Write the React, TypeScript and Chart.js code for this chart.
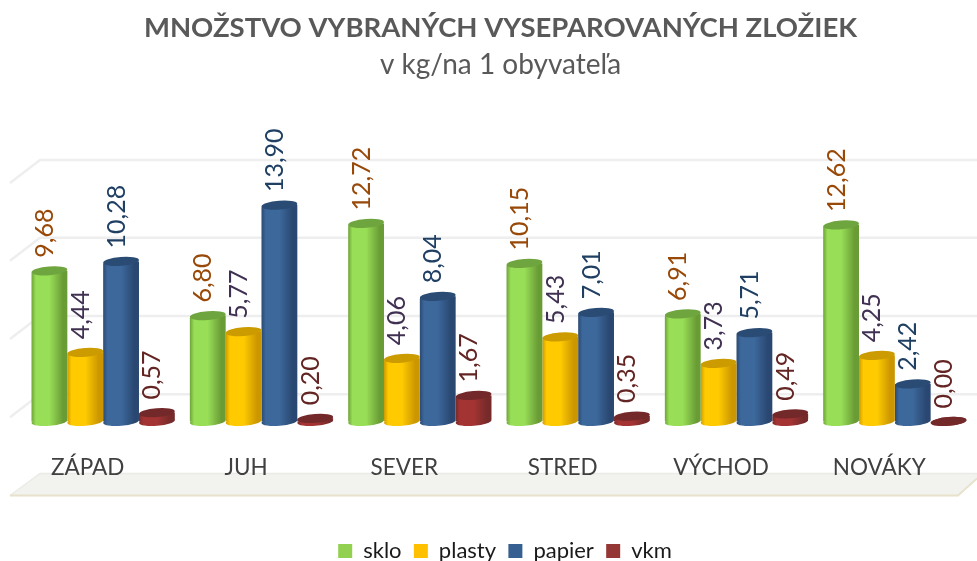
import React, { useEffect, useRef } from "react";
import { Chart, registerables } from "chart.js";

Chart.register(...registerables);

const categories = ["ZÁPAD", "JUH", "SEVER", "STRED", "VÝCHOD", "NOVÁKY"];
const sklo = [9.68, 6.8, 12.72, 10.15, 6.91, 12.62];
const plasty = [4.44, 5.77, 4.06, 5.43, 3.73, 4.25];
const papier = [10.28, 13.9, 8.04, 7.01, 5.71, 2.42];
const vkm = [0.57, 0.2, 1.67, 0.35, 0.49, 0.0];
const wallLines = [1.75, 6.77, 11.8, 16.8];

const FONT = "Lato, Carlito, sans-serif";
const CAT_PCT = 0.905;

type Pal = { legend: string; edgeL: string; mid: string; edgeR: string; cap: string; label: string };
const pal: Pal[] = [
  { legend: "#92d050", edgeL: "#6ea338", mid: "#98de56", edgeR: "#6a9c36", cap: "#6fa53e", label: "#984807" },
  { legend: "#ffc000", edgeL: "#cf9a00", mid: "#ffcb00", edgeR: "#cb9600", cap: "#cb9b00", label: "#403152" },
  { legend: "#376092", edgeL: "#2a4a72", mid: "#3d689c", edgeR: "#294770", cap: "#2a4b74", label: "#1f3f63" },
  { legend: "#953735", edgeL: "#762a2a", mid: "#a43434", edgeR: "#762a2a", cap: "#732829", label: "#632523" },
];

function bodyFill(ctx: any, p: Pal) {
  const chart = ctx.chart;
  const xs = chart.scales.x;
  if (!chart.chartArea || !xs || ctx.dataIndex === undefined) return p.mid;
  const step = xs.width / categories.length;
  const w = (step * CAT_PCT) / 4;
  const c = xs.getPixelForTick(ctx.dataIndex) + (ctx.datasetIndex - 1.5) * w;
  const g = chart.ctx.createLinearGradient(c - w / 2, 0, c + w / 2, 0);
  g.addColorStop(0, p.edgeL);
  g.addColorStop(0.12, p.mid);
  g.addColorStop(0.5, p.mid);
  g.addColorStop(0.88, p.edgeR);
  g.addColorStop(1, p.edgeR);
  return g;
}

const backdrop = {
  id: "backdrop",
  beforeDraw(chart: any) {
    const { ctx, width } = chart;
    const y = chart.scales.y;
    const left = chart.chartArea.left + 16;
    ctx.save();
    ctx.strokeStyle = "#eeeeee";
    ctx.lineWidth = 2.5;
    y.ticks.forEach((t: any) => {
      const py = y.getPixelForValue(t.value);
      ctx.beginPath();
      ctx.moveTo(left - 30, py + 23);
      ctx.lineTo(left, py);
      ctx.lineTo(width, py);
      ctx.stroke();
    });
    const base = y.getPixelForValue(0);
    const top = base + 52;
    const front = base + 74;
    ctx.beginPath();
    ctx.moveTo(left, top);
    ctx.lineTo(width, top);
    ctx.lineTo(width, front - 17);
    ctx.lineTo(width - 19, front);
    ctx.lineTo(left - 30, front);
    ctx.closePath();
    ctx.fillStyle = "#f2f2ef";
    ctx.fill();
    ctx.strokeStyle = "#eaeae6";
    ctx.lineWidth = 1.5;
    ctx.beginPath();
    ctx.moveTo(left - 30, front);
    ctx.lineTo(left, top);
    ctx.lineTo(width, top);
    ctx.stroke();
    ctx.strokeStyle = "#e6e2cc";
    ctx.lineWidth = 2;
    ctx.beginPath();
    ctx.moveTo(left - 30, front);
    ctx.lineTo(width - 19, front);
    ctx.lineTo(width, front - 17);
    ctx.stroke();
    ctx.restore();
  },
};

const cylinders = {
  id: "cylinders",
  afterLayout(chart: any) {
    chart.legend.left += 9;
    chart.legend.top += 11;
  },
  afterDatasetDraw(chart: any, args: any) {
    const { ctx } = chart;
    const i = args.index;
    const p = pal[i];
    const y = chart.scales.y;
    const base = y.getPixelForValue(0);
    args.meta.data.forEach((el: any) => {
      const rx = el.width / 2;
      const tilt = -0.08;
      ctx.save();
      ctx.fillStyle = el.options.backgroundColor;
      ctx.beginPath();
      ctx.ellipse(el.x, base, rx, 4.4, tilt, 0, Math.PI * 2);
      ctx.fill();
      ctx.fillStyle = p.cap;
      ctx.beginPath();
      ctx.ellipse(el.x, el.y, rx, 4.4, tilt, 0, Math.PI * 2);
      ctx.fill();
      ctx.restore();
    });
  },
  afterDatasetsDraw(chart: any) {
    const { ctx } = chart;
    chart.data.datasets.forEach((ds: any, i: number) => {
      chart.getDatasetMeta(i).data.forEach((el: any, k: number) => {
        ctx.save();
        ctx.translate(el.x - 4.5, el.y - 13);
        ctx.rotate(-Math.PI / 2);
        ctx.font = `25px ${FONT}`;
        ctx.fillStyle = pal[i].label;
        ctx.textAlign = "left";
        ctx.textBaseline = "middle";
        ctx.fillText(ds.data[k].toFixed(2).replace(".", ","), 0, 0);
        ctx.restore();
      });
    });
  },
};

function series(label: string, data: number[], i: number) {
  const p = pal[i];
  return {
    label,
    data,
    backgroundColor: (c: any) => bodyFill(c, p),
    borderWidth: 0,
    borderSkipped: false,
    borderRadius: { topLeft: 3, topRight: 0, bottomLeft: 0, bottomRight: 3 },
    barPercentage: 1,
    categoryPercentage: CAT_PCT,
  };
}

export default function App() {
  const ref = useRef<HTMLCanvasElement>(null);
  useEffect(() => {
    const chart = new Chart(ref.current!, {
      type: "bar",
      data: {
        labels: categories,
        datasets: [
          series("sklo", sklo, 0),
          series("plasty", plasty, 1),
          series("papier", papier, 2),
          series("vkm", vkm, 3),
        ] as any,
      },
      plugins: [backdrop, cylinders],
      options: {
        responsive: false,
        animation: false,
        events: [],
        layout: { padding: { left: 24, right: 0, top: 0, bottom: 0 } },
        scales: {
          x: {
            grid: { display: false },
            border: { display: false },
            ticks: {
              color: "#404040",
              font: { family: FONT, size: 22.5 },
              padding: 6,
              labelOffset: -15.5,
              maxRotation: 0,
              autoSkip: false,
            },
            afterFit(s: any) {
              s.height = 76;
            },
          },
          y: {
            position: "right",
            min: -1.234,
            max: 20.84,
            grid: { display: false },
            border: { display: false },
            ticks: { display: false },
            afterFit(s: any) {
              s.width = 3;
            },
            afterBuildTicks(s: any) {
              s.ticks = wallLines.map((value) => ({ value }));
            },
          },
        },
        plugins: {
          tooltip: { enabled: false },
          title: {
            display: true,
            text: "MNOŽSTVO VYBRANÝCH VYSEPAROVANÝCH ZLOŽIEK",
            color: "#595959",
            font: { family: FONT, size: 27.5, weight: "bold" },
            padding: { top: 12, bottom: 3.2 },
          },
          subtitle: {
            display: true,
            text: "v kg/na 1 obyvateľa",
            color: "#595959",
            font: { family: FONT, size: 28, weight: "normal" },
            padding: { top: 0, bottom: 15.2 },
          },
          legend: {
            position: "bottom",
            labels: {
              boxWidth: 14,
              boxHeight: 14,
              padding: 12.3,
              color: "#1a1a1a",
              font: { family: FONT, size: 22, lineHeight: 1 },
              generateLabels(chart: any) {
                return Chart.defaults.plugins.legend.labels
                  .generateLabels(chart)
                  .map((l: any, i: number) => ({ ...l, fillStyle: pal[i].legend, strokeStyle: pal[i].legend, lineWidth: 0 }));
              },
            },
          },
        },
      } as any,
    });
    return () => chart.destroy();
  }, []);
  return (
    <div style={{ position: "fixed", left: 0, top: 0, width: 977, height: 561, background: "#fff" }}>
      <canvas ref={ref} width={977} height={561} style={{ display: "block" }} />
    </div>
  );
}
